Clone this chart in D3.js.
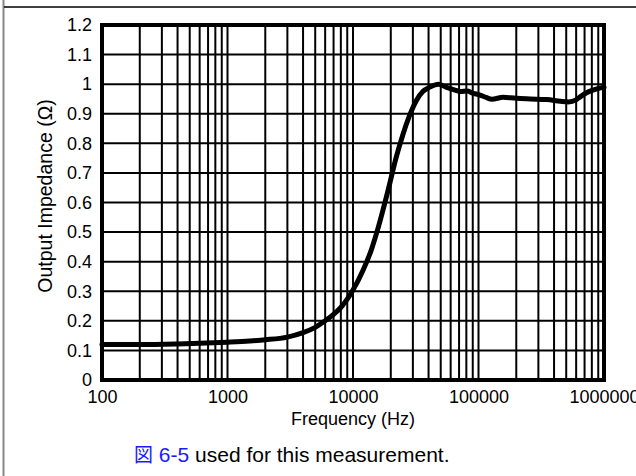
<!DOCTYPE html>
<html><head><meta charset="utf-8">
<script src="https://cdn.jsdelivr.net/npm/d3@7"></script>
<style>
html,body{margin:0;padding:0;background:#fff;}
svg{display:block;font-family:"Liberation Sans",Arial,Helvetica,sans-serif;}
</style></head>
<body>
<svg id="c" width="636" height="476"></svg>
<script>
const freq = [100, 200, 400, 600, 1000, 1500, 2000, 3000, 4000, 5000, 6000, 7000, 8000, 10000, 12000, 14000, 16000, 19000, 22000, 25000, 28000, 32000, 36000, 41000, 48000, 55000, 65000, 72000, 81000, 90000, 103000, 115000, 128000, 157000, 200000, 260000, 350000, 450000, 520000, 600000, 650000, 720000, 820000, 1000000];
const impedance = [0.12, 0.12, 0.122, 0.124, 0.128, 0.132, 0.136, 0.145, 0.16, 0.178, 0.2, 0.222, 0.245, 0.304, 0.37, 0.44, 0.52, 0.64, 0.75, 0.83, 0.89, 0.945, 0.975, 0.99, 1.0, 0.99, 0.98, 0.975, 0.977, 0.97, 0.963, 0.955, 0.949, 0.956, 0.952, 0.95, 0.948, 0.942, 0.94, 0.947, 0.958, 0.97, 0.98, 0.99];
const xTickValues = [100, 1000, 10000, 100000, 1000000];
const xTickLabels = ["100", "1000", "10000", "100000", "1000000"];
const yTickValues = [0, 0.1, 0.2, 0.3, 0.4, 0.5, 0.6, 0.7, 0.8, 0.9, 1.0, 1.1, 1.2];
const yTickLabels = ["0", "0.1", "0.2", "0.3", "0.4", "0.5", "0.6", "0.7", "0.8", "0.9", "1", "1.1", "1.2"];
const xTitle = "Frequency (Hz)";
const yTitle = "Output Impedance (\u03A9)";
const captionRef = "6-5";
const captionRest = " used for this measurement.";

const FS = 18;
const svg = d3.select("#c");
const L = 102, R = 604, T = 25, B = 380;
const x = d3.scaleLog().domain([100, 1e6]).range([L, R]);
const y = d3.scaleLinear().domain([0, 1.2]).range([B, T]);

// outer page decorations
svg.append("line").attr("x1", 3.5).attr("x2", 3.5).attr("y1", 0).attr("y2", 476).attr("stroke", "#888").attr("stroke-width", 2);
svg.append("line").attr("x1", 4).attr("x2", 636).attr("y1", 7).attr("y2", 7).attr("stroke", "#000").attr("stroke-width", 1.5);

// grid
const minor = [];
for (let d = 100; d < 1e6; d *= 10) for (let k = 2; k <= 9; k++) minor.push(d * k);
const g = svg.append("g");
g.selectAll(".vx").data(minor.concat(xTickValues)).enter().append("line")
  .attr("x1", d => x(d)).attr("x2", d => x(d)).attr("y1", T).attr("y2", B)
  .attr("stroke", "#000").attr("stroke-width", 2);
g.selectAll(".hy").data(yTickValues).enter().append("line")
  .attr("x1", L).attr("x2", R).attr("y1", d => y(d)).attr("y2", d => y(d))
  .attr("stroke", "#000").attr("stroke-width", 2);

// frame
svg.append("rect").attr("x", L).attr("y", T).attr("width", R - L).attr("height", B - T)
  .attr("fill", "none").attr("stroke", "#000").attr("stroke-width", 4);

// axes labels via d3 axes
const xAxis = d3.axisBottom(x).tickValues(xTickValues).tickFormat((d, i) => xTickLabels[i]).tickSize(0).tickPadding(10);
const xa = svg.append("g").attr("transform", `translate(0,${B})`).call(xAxis);
xa.attr("font-size", FS).attr("font-family", null);
xa.select(".domain").remove();
xa.selectAll("text").attr("fill", "#000");

const yAxis = d3.axisLeft(y).tickValues(yTickValues).tickFormat((d, i) => yTickLabels[i]).tickSize(0).tickPadding(10);
const ya = svg.append("g").attr("transform", `translate(${L},0)`).call(yAxis);
ya.attr("font-size", FS).attr("font-family", null);
ya.select(".domain").remove();
ya.selectAll("text").attr("fill", "#000");

// curve
const line = d3.line().x((d, i) => x(freq[i])).y(d => y(d)).curve(d3.curveMonotoneX);
svg.append("path").datum(impedance).attr("d", line).attr("fill", "none")
  .attr("stroke", "#000").attr("stroke-width", 5).attr("stroke-linejoin", "round").attr("stroke-linecap", "round");

// titles
svg.append("text").attr("x", (L + R) / 2).attr("y", 425).attr("text-anchor", "middle")
  .attr("font-size", FS).text(xTitle);
svg.append("text").attr("transform", `translate(52,196) rotate(-90)`).attr("text-anchor", "middle")
  .attr("font-size", 19.5).text(yTitle);

// caption
const cap = svg.append("text").attr("x", 134).attr("y", 462).attr("font-size", 21);
cap.append("tspan").attr("fill", "#1a1aff").attr("font-family", "Noto Sans CJK JP, Liberation Sans, sans-serif").attr("font-size", 19).text("\u56F3");
cap.append("tspan").attr("fill", "#1a1aff").text(" " + captionRef);
cap.append("tspan").attr("fill", "#000").text(captionRest);
</script>
</body></html>
